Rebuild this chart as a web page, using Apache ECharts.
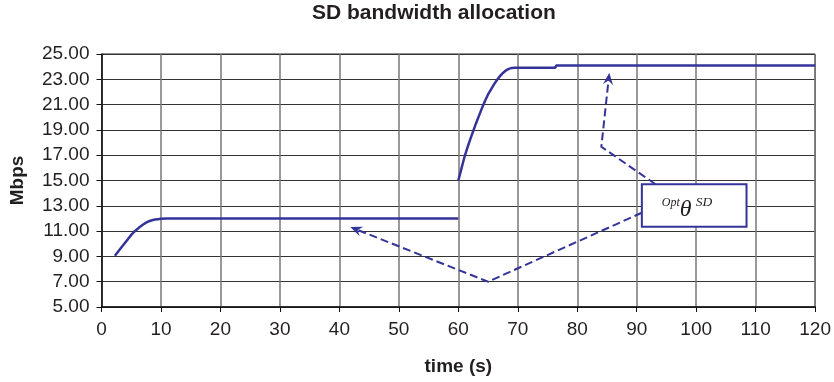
<!DOCTYPE html>
<html>
<head>
<meta charset="utf-8">
<script src="https://cdn.jsdelivr.net/npm/echarts@6/dist/echarts.min.js"></script>
<style>
  html, body { margin: 0; padding: 0; background: #fff; }
  #main { width: 834px; height: 382px; }
</style>
</head>
<body>
<div id="main"></div>
<script>
// first segment (0 - 60 s)
var timeA = [2.25, 3, 3.5, 4, 4.5, 5, 5.5, 6, 6.5, 7, 7.5, 8, 8.5, 9, 9.5, 10, 11, 60];
var rateA = [9.05, 9.5, 9.8, 10.1, 10.4, 10.7, 10.95, 11.15, 11.35, 11.52, 11.67, 11.78, 11.86, 11.91, 11.94, 11.97, 12.0, 12.0];
// second segment (60 - 120 s)
var timeB = [60, 60.5, 61, 61.5, 62, 62.5, 63, 63.5, 64, 64.5, 65, 65.5, 66, 66.5, 67, 67.5, 68, 68.5, 69, 69.5, 70, 76.3, 76.5, 120];
var rateB = [15.0, 15.9, 16.8, 17.55, 18.25, 18.9, 19.55, 20.15, 20.75, 21.3, 21.8, 22.2, 22.6, 22.95, 23.25, 23.5, 23.7, 23.82, 23.9, 23.92, 23.92, 23.92, 24.1, 24.1];

var xTicks = [0, 10, 20, 30, 40, 50, 60, 70, 80, 90, 100, 110, 120];
var yTicks = [5, 7, 9, 11, 13, 15, 17, 19, 21, 23, 25];

// annotation anchors, in data units (time, Mbps)
var boxCorner1 = [90.86, 14.7];
var boxCorner2 = [108.46, 11.35];
var upperPath = [[93.1, 14.72], [84.05, 17.67], [85.39, 23.52]];
var lowerPath = [[90.86, 12.45], [65.0, 7.0], [41.84, 11.32]];

var navy = "#33339a";
var ink = "#231f20";

function pairs(xs, ys) {
  var out = [];
  for (var i = 0; i < xs.length; i++) out.push([xs[i], ys[i]]);
  return out;
}

var myChart = echarts.init(document.getElementById("main"));

var option = {
  animation: false,
  title: {
    text: "SD bandwidth allocation",
    left: 312,
    top: 3,
    padding: 0,
    textStyle: { fontFamily: "Liberation Sans", fontWeight: "bold", fontSize: 21, color: ink },
  },
  grid: { left: 101.5, right: 17, top: 54, bottom: 75, show: true, borderColor: "#222", borderWidth: 1 },
  xAxis: {
    type: "value",
    min: xTicks[0],
    max: xTicks[xTicks.length - 1],
    interval: 10,
    name: "time (s)",
    nameLocation: "middle",
    nameGap: 50,
    nameTextStyle: { fontFamily: "Liberation Sans", fontWeight: "bold", fontSize: 19, color: ink },
    axisLine: { onZero: false, lineStyle: { color: "#111", width: 1.5 } },
    axisTick: { show: true, length: 5, lineStyle: { color: "#111" } },
    axisLabel: { margin: 13, fontFamily: "Liberation Sans", fontSize: 19, color: ink },
    splitLine: { show: true, lineStyle: { color: "#777", width: 1.5 } },
  },
  yAxis: {
    type: "value",
    min: yTicks[0],
    max: yTicks[yTicks.length - 1],
    interval: 2,
    name: "Mbps",
    nameLocation: "middle",
    nameGap: 74,
    nameTextStyle: { fontFamily: "Liberation Sans", fontWeight: "bold", fontSize: 19, color: ink },
    axisLine: { show: true, onZero: false, lineStyle: { color: "#111", width: 1.5 } },
    axisTick: { show: true, length: 5, lineStyle: { color: "#111" } },
    axisLabel: {
      margin: 12,
      fontFamily: "Liberation Sans",
      fontSize: 19,
      color: ink,
      formatter: function (v) { return v.toFixed(2); },
    },
    splitLine: { show: true, lineStyle: { color: "#333", width: 1 } },
  },
  series: [
    {
      type: "line",
      data: pairs(timeA, rateA),
      showSymbol: false,
      lineStyle: { color: navy, width: 2.5 },
    },
    {
      type: "line",
      data: pairs(timeB, rateB),
      showSymbol: false,
      lineStyle: { color: navy, width: 2.5 },
    },
  ],
};

myChart.setOption(option);

// annotation: dashed arrows and label box
function px(p) {
  return myChart.convertToPixel({ gridIndex: 0 }, p);
}

function arrowHead(path) {
  var tip = px(path[path.length - 1]);
  var prev = px(path[path.length - 2]);
  var dx = tip[0] - prev[0], dy = tip[1] - prev[1];
  var len = Math.sqrt(dx * dx + dy * dy);
  var ux = dx / len, uy = dy / len;
  var nx = -uy, ny = ux;
  var L = 12, W = 5;
  return {
    type: "polygon",
    z: 100,
    shape: {
      points: [
        tip,
        [tip[0] - ux * L + nx * W, tip[1] - uy * L + ny * W],
        [tip[0] - ux * L * 0.65, tip[1] - uy * L * 0.65],
        [tip[0] - ux * L - nx * W, tip[1] - uy * L - ny * W],
      ],
    },
    style: { fill: navy },
  };
}

function dashed(path) {
  var pts = path.map(px);
  // stop the line short of the tip so the head stays sharp
  var a = pts[pts.length - 2], b = pts[pts.length - 1];
  var dx = b[0] - a[0], dy = b[1] - a[1];
  var len = Math.sqrt(dx * dx + dy * dy);
  pts[pts.length - 1] = [b[0] - dx / len * 7, b[1] - dy / len * 7];
  return {
    type: "polyline",
    z: 100,
    shape: { points: pts },
    style: { stroke: navy, lineWidth: 2, lineDash: [8, 4], fill: null },
  };
}

var c1 = px(boxCorner1);
var c2 = px(boxCorner2);
var serif = "Liberation Serif";

myChart.setOption({
  graphic: [
    dashed(upperPath),
    arrowHead(upperPath),
    dashed(lowerPath),
    arrowHead(lowerPath),
    {
      type: "rect",
      z: 101,
      shape: { x: c1[0], y: c1[1], width: c2[0] - c1[0], height: c2[1] - c1[1] },
      style: { fill: "#fff", stroke: navy, lineWidth: 2 },
    },
    {
      type: "text",
      z: 102,
      x: c1[0] + 20,
      y: c1[1] + 19,
      style: { text: "Opt", font: "italic 12px " + serif, fill: ink, verticalAlign: "middle" },
    },
    {
      type: "text",
      z: 102,
      x: c1[0] + 38,
      y: c1[1] + 25,
      style: { text: "\u03b8", font: "italic 24px " + serif, fill: ink, verticalAlign: "middle" },
    },
    {
      type: "text",
      z: 102,
      x: c1[0] + 54,
      y: c1[1] + 18,
      style: { text: "SD", font: "italic 13.5px " + serif, fill: ink, verticalAlign: "middle" },
    },
  ],
});
</script>
</body>
</html>
